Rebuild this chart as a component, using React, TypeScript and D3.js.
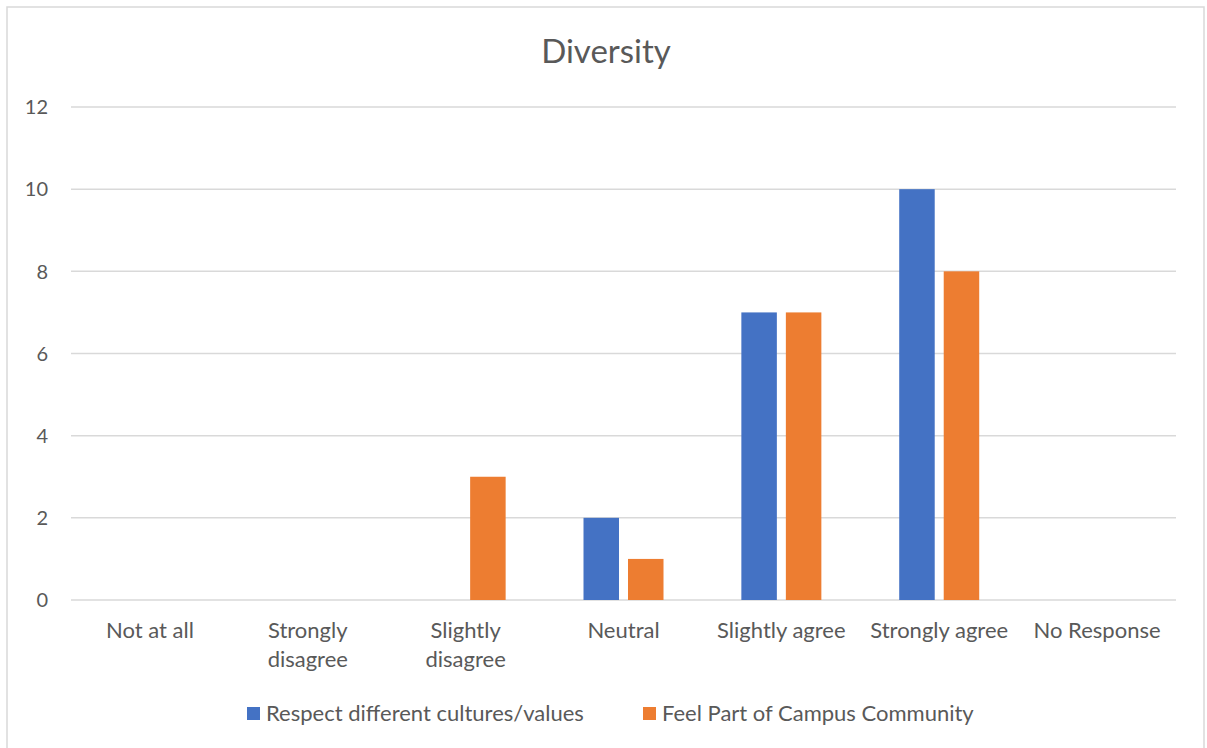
import React from "react";
import * as d3 from "d3";

const categories = [
  ["Not at all"],
  ["Strongly", "disagree"],
  ["Slightly", "disagree"],
  ["Neutral"],
  ["Slightly agree"],
  ["Strongly agree"],
  ["No Response"],
];
const seriesNames = ["Respect different cultures/values", "Feel Part of Campus Community"];
const respectValues = [0, 0, 0, 2, 7, 10, 0];
const feelPartValues = [0, 0, 3, 1, 7, 8, 0];
const yTicks = [0, 2, 4, 6, 8, 10, 12];
const colors = ["#4472C4", "#ED7D31"];

const W = 1207;
const H = 748;
const FONT = "Lato, 'Open Sans', sans-serif";

export default function App() {
  const x0 = 71, x1 = 1176, yTop = 107, yBottom = 600;
  const keys = categories.map((c) => c.join(" "));
  const x = d3.scaleBand<string>().domain(keys).range([x0, x1]).paddingInner(0).paddingOuter(0);
  const y = d3.scaleLinear().domain([0, 12]).range([yBottom, yTop]);
  const barW = 35.5;
  const gap = 9;
  const series = [respectValues, feelPartValues];

  return (
    <svg width={W} height={H} style={{ position: "absolute", left: 0, top: 0, background: "#fff" }}>
      <rect x={7} y={7} width={1197} height={760} fill="#fff" stroke="#d9d9d9" strokeWidth={1.5} />
      <text x={606} y={63} textAnchor="middle" fontFamily={FONT} fontSize={33} fill="#595959">Diversity</text>
      {yTicks.map((t) => (
        <g key={t}>
          <line x1={x0} x2={x1} y1={y(t)} y2={y(t)} stroke="#d9d9d9" strokeWidth={1.5} />
          <text x={48} y={y(t)} dy="0.36em" textAnchor="end" fontFamily={FONT} fontSize={20} fill="#595959">{t}</text>
        </g>
      ))}
      {keys.map((k, i) => {
        const cx = (x(k) as number) + x.bandwidth() / 2;
        const groupW = barW * 2 + gap;
        return (
          <g key={k}>
            {series.map((vals, s) =>
              vals[i] > 0 ? (
                <rect
                  key={s}
                  x={cx - groupW / 2 + s * (barW + gap)}
                  y={y(vals[i])}
                  width={barW}
                  height={yBottom - y(vals[i])}
                  fill={colors[s]}
                />
              ) : null
            )}
            {categories[i].map((line, li) => (
              <text key={li} x={cx} y={638 + li * 29} textAnchor="middle" fontFamily={FONT} fontSize={22} fill="#595959">{line}</text>
            ))}
          </g>
        );
      })}
      {seriesNames.map((name, s) => {
        const lx = s === 0 ? 247 : 643;
        return (
          <g key={name}>
            <rect x={lx} y={707} width={13} height={13} fill={colors[s]} />
            <text x={lx + 19} y={721} fontFamily={FONT} fontSize={22} fill="#595959">{name}</text>
          </g>
        );
      })}
    </svg>
  );
}
